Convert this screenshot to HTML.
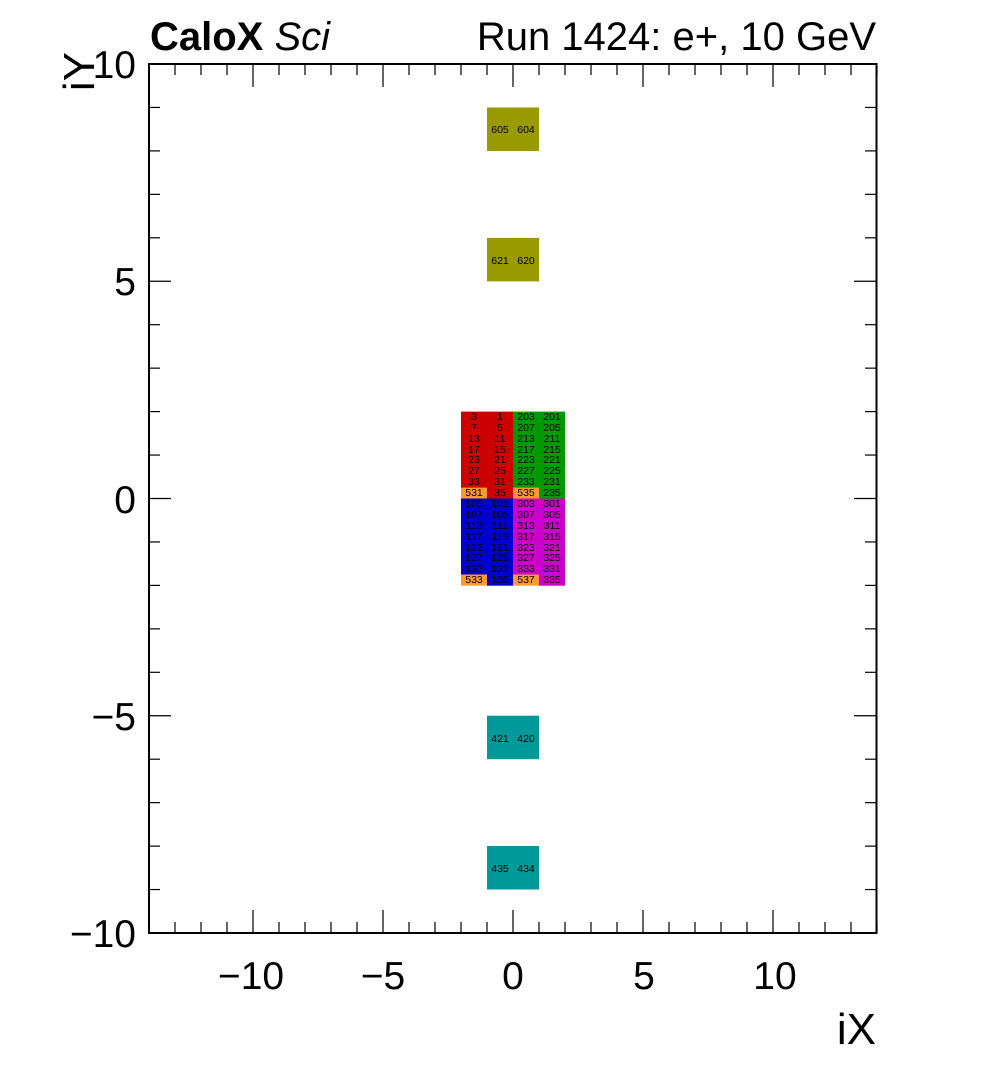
<!DOCTYPE html>
<html><head><meta charset="utf-8"><style>
body{margin:0;background:#fff}
svg{display:block}
text{font-family:"Liberation Sans",sans-serif}
.c{font-size:10.5px;text-anchor:middle}
.t{font-size:39px}
</style></head><body>
<svg id="s" width="996" height="1072" viewBox="0 0 996 1072" xmlns="http://www.w3.org/2000/svg">
<rect x="0" y="0" width="996" height="1072" fill="#fff"/>
<g id="cells"></g>
<rect x="487" y="107.5" width="52" height="43.5" fill="#999900"/>
<rect x="487" y="237.9" width="52" height="43.5" fill="#999900"/>
<rect x="487" y="715.7" width="52" height="43.5" fill="#009999"/>
<rect x="487" y="846" width="52" height="43.5" fill="#009999"/>
<g class="c">
<text x="500" y="133" class="c">605</text><text x="526" y="133" class="c">604</text>
<text x="500" y="264" class="c">621</text><text x="526" y="264" class="c">620</text>
<text x="500" y="742" class="c">421</text><text x="526" y="742" class="c">420</text>
<text x="500" y="872" class="c">435</text><text x="526" y="872" class="c">434</text>
</g>
<g id="labels" class="c">
<text x="474" y="420" class="c">3</text><text x="500" y="420" class="c">1</text><text x="526" y="420" class="c">203</text><text x="552" y="420" class="c">201</text>
<text x="474" y="431" class="c">7</text><text x="500" y="431" class="c">5</text><text x="526" y="431" class="c">207</text><text x="552" y="431" class="c">205</text>
<text x="474" y="442" class="c">13</text><text x="500" y="442" class="c">11</text><text x="526" y="442" class="c">213</text><text x="552" y="442" class="c">211</text>
<text x="474" y="453" class="c">17</text><text x="500" y="453" class="c">15</text><text x="526" y="453" class="c">217</text><text x="552" y="453" class="c">215</text>
<text x="474" y="463" class="c">23</text><text x="500" y="463" class="c">21</text><text x="526" y="463" class="c">223</text><text x="552" y="463" class="c">221</text>
<text x="474" y="474" class="c">27</text><text x="500" y="474" class="c">25</text><text x="526" y="474" class="c">227</text><text x="552" y="474" class="c">225</text>
<text x="474" y="485" class="c">33</text><text x="500" y="485" class="c">31</text><text x="526" y="485" class="c">233</text><text x="552" y="485" class="c">231</text>
<text x="474" y="496" class="c">531</text><text x="500" y="496" class="c">35</text><text x="526" y="496" class="c">535</text><text x="552" y="496" class="c">235</text>
<text x="474" y="507" class="c">103</text><text x="500" y="507" class="c">101</text><text x="526" y="507" class="c">303</text><text x="552" y="507" class="c">301</text>
<text x="474" y="518" class="c">107</text><text x="500" y="518" class="c">105</text><text x="526" y="518" class="c">307</text><text x="552" y="518" class="c">305</text>
<text x="474" y="529" class="c">113</text><text x="500" y="529" class="c">111</text><text x="526" y="529" class="c">313</text><text x="552" y="529" class="c">311</text>
<text x="474" y="540" class="c">117</text><text x="500" y="540" class="c">115</text><text x="526" y="540" class="c">317</text><text x="552" y="540" class="c">315</text>
<text x="474" y="551" class="c">123</text><text x="500" y="551" class="c">121</text><text x="526" y="551" class="c">323</text><text x="552" y="551" class="c">321</text>
<text x="474" y="561" class="c">127</text><text x="500" y="561" class="c">125</text><text x="526" y="561" class="c">327</text><text x="552" y="561" class="c">325</text>
<text x="474" y="572" class="c">133</text><text x="500" y="572" class="c">131</text><text x="526" y="572" class="c">333</text><text x="552" y="572" class="c">331</text>
<text x="474" y="583" class="c">533</text><text x="500" y="583" class="c">135</text><text x="526" y="583" class="c">537</text><text x="552" y="583" class="c">335</text>
</g>
<rect x="149" y="64" width="727.5" height="869" fill="none" stroke="#000" stroke-width="2"/>
<g id="ticks" stroke="#000" stroke-width="1.2"></g>
<g class="t" text-anchor="end">
<text x="136" y="78">10</text>
<text x="136" y="295">5</text>
<text x="136" y="513">0</text>
<text x="136" y="730">−5</text>
<text x="136" y="947">−10</text>
</g>
<g class="t" text-anchor="middle">
<text x="251" y="989">−10</text>
<text x="383" y="989">−5</text>
<text x="513" y="989">0</text>
<text x="644" y="989">5</text>
<text x="775" y="989">10</text>
</g>
<text x="876" y="1044" text-anchor="end" style="font-size:44px">iX</text>
<text transform="translate(94,52) rotate(-90)" text-anchor="end" style="font-size:44px">iY</text>
<text x="150" y="50" style="font-size:40px;font-weight:bold">CaloX <tspan style="font-weight:normal;font-style:italic">Sci</tspan></text>
<text x="876" y="50" text-anchor="end" style="font-size:40px">Run 1424: e+, 10 GeV</text>
</svg>
<script>
var NS="http://www.w3.org/2000/svg";
function el(p,n,a){var e=document.createElementNS(NS,n);for(var k in a)e.setAttribute(k,a[k]);p.appendChild(e);return e;}
var cells=document.getElementById("cells");
var cx=[461,487,513,539],h=10.86;
for(var b=0;b<2;b++){for(var r=0;r<8;r++){for(var c=0;c<4;c++){
 var col;
 if(b==0)col=(c<2)?"#cc0000":"#009900";else col=(c<2)?"#0000cc":"#cc00cc";
 if(r==7&&(c==0||c==2))col="#ff9933";
 var y=(b==0?411.6:498.5)+h*r;
 el(cells,"rect",{x:cx[c],y:y,width:26.1,height:h+0.3,fill:col});
}}}
var t=document.getElementById("ticks");
for(var v=-14;v<=14;v++){var x=513+26*v;var L=(v%5==0)?23:11;
 el(t,"line",{x1:x,y1:933,x2:x,y2:933-L});el(t,"line",{x1:x,y1:64,x2:x,y2:64+L});}
for(var v=-10;v<=10;v++){var y=498.5-43.45*v;var L=(v%5==0)?22:11;
 el(t,"line",{x1:149,y1:y,x2:149+L,y2:y});el(t,"line",{x1:876,y1:y,x2:876-L,y2:y});}
</script>
</body></html>
